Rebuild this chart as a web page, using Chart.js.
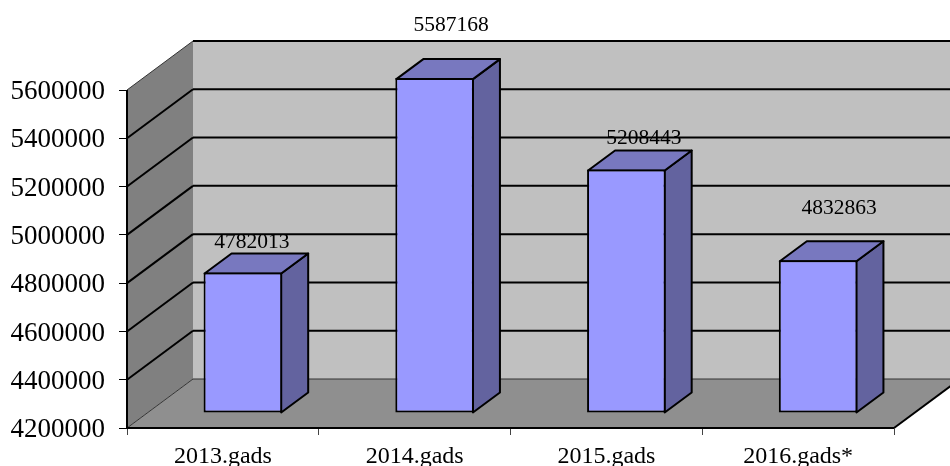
<!DOCTYPE html>
<html>
<head>
<meta charset="utf-8">
<style>html,body{margin:0;padding:0;background:#fff;overflow:hidden}#w{width:950px;height:466px;position:relative;overflow:hidden}</style>
<script src="https://cdn.jsdelivr.net/npm/chart.js@4"></script>
</head>
<body>
<div id="w"><canvas id="c" width="950" height="466"></canvas></div>
<script>
const categories = ['2013.gads', '2014.gads', '2015.gads', '2016.gads*'];
const values = [4782013, 5587168, 5208443, 4832863];
const axisMin = 4200000;
const axisMax = 5600000;
const axisStep = 200000;

const FONT = '"Liberation Serif", serif';
const WALL = {dx: 66, dy: -49};
const BAR_SHIFT = {dx: 20, dy: -15};
const BAR_DEPTH = {dx: 27, dy: -20};
const LABEL_SHIFT = [[9, -30.5], [16.5, -53], [17.5, -31.5], [21, -52]];

function poly(ctx, pts, fill, stroke, lw) {
  ctx.beginPath();
  pts.forEach((p, i) => i ? ctx.lineTo(p[0], p[1]) : ctx.moveTo(p[0], p[1]));
  ctx.closePath();
  if (fill) { ctx.fillStyle = fill; ctx.fill(); }
  if (stroke) { ctx.strokeStyle = stroke; ctx.lineWidth = lw; ctx.stroke(); }
}
function seg(ctx, x1, y1, x2, y2, color, lw) {
  ctx.beginPath(); ctx.moveTo(x1, y1); ctx.lineTo(x2, y2);
  ctx.strokeStyle = color; ctx.lineWidth = lw; ctx.stroke();
}

const walls = {
  id: 'walls',
  beforeDraw(chart) {
    const {ctx, chartArea: a, scales: {y}} = chart;
    const dx = WALL.dx, dy = WALL.dy;
    const top = y.getPixelForValue(axisMax), bot = y.getPixelForValue(axisMin);
    ctx.save();
    poly(ctx, [[a.left + dx, top + dy], [a.right + dx, top + dy], [a.right + dx, bot + dy], [a.left + dx, bot + dy]], '#c0c0c0');
    poly(ctx, [[a.left, top], [a.left + dx, top + dy], [a.left + dx, bot + dy], [a.left, bot]], '#808080');
    poly(ctx, [[a.left, bot], [a.right, bot], [a.right + dx, bot + dy], [a.left + dx, bot + dy]], '#8f8f8f');
    y.ticks.forEach(t => {
      const py = y.getPixelForValue(t.value);
      const edge = t.value === axisMin;
      const thin = edge || t.value === axisMax;
      seg(ctx, a.left, py, a.left + dx, py + dy, thin ? '#333' : '#000', thin ? 1 : 2);
      seg(ctx, a.left + dx, py + dy, a.right + dx, py + dy, edge ? '#333' : '#000', edge ? 1 : 2);
    });
    seg(ctx, a.right, bot, a.right + dx, bot + dy, '#000', 2);
    ctx.restore();
  },
  beforeDatasetsDraw(chart) {
    const {ctx, chartArea: a, scales: {y}} = chart;
    const top = y.getPixelForValue(axisMax), bot = y.getPixelForValue(axisMin);
    seg(ctx, a.left, top, a.left, bot + 1, '#000', 2);
    seg(ctx, a.left - 1, bot, a.right, bot, '#000', 2);
    ctx.save();
    ctx.translate(BAR_SHIFT.dx, BAR_SHIFT.dy);
    ctx.lineJoin = 'round';
    chart.getDatasetMeta(0).data.forEach(el => {
      const p = el.getProps(['x', 'y', 'base', 'width'], true);
      const l = p.x - p.width / 2 + 1, r = p.x + p.width / 2 - 1, t = p.y + 1;
      const ddx = BAR_DEPTH.dx, ddy = BAR_DEPTH.dy;
      poly(ctx, [[r, t], [r + ddx, t + ddy], [r + ddx, p.base + ddy], [r, p.base]], '#63639f', '#000', 2);
      poly(ctx, [[l, t], [l + ddx, t + ddy], [r + ddx, t + ddy], [r, t]], '#7878bf', '#000', 2);
    });
  },
  afterDatasetsDraw(chart) {
    const {ctx} = chart;
    ctx.restore();
    ctx.save();
    ctx.font = '21.5px ' + FONT;
    ctx.fillStyle = '#000';
    ctx.textAlign = 'center';
    ctx.textBaseline = 'middle';
    chart.getDatasetMeta(0).data.forEach((el, i) => {
      const p = el.getProps(['x', 'y'], true);
      ctx.fillText(String(values[i]), p.x + BAR_SHIFT.dx + LABEL_SHIFT[i][0], p.y + BAR_SHIFT.dy + LABEL_SHIFT[i][1]);
    });
    ctx.restore();
  }
};

new Chart(document.getElementById('c'), {
  type: 'bar',
  data: {
    labels: categories,
    datasets: [{
      data: values,
      base: axisMin,
      backgroundColor: '#9999ff',
      borderColor: '#000',
      borderWidth: 2,
      borderSkipped: false,
      barPercentage: 0.41,
      categoryPercentage: 1,
      clip: false
    }]
  },
  options: {
    responsive: false,
    animation: false,
    events: [],
    layout: {padding: {top: 90, right: 56, left: 0, bottom: 0}},
    plugins: {legend: {display: false}, tooltip: {enabled: false}, title: {display: false}},
    scales: {
      x: {
        type: 'category',
        offset: true,
        afterFit(s) { s.height = 38; },
        border: {display: false},
        grid: {offset: true, drawOnChartArea: false, drawTicks: true, tickLength: 7, color: '#444', lineWidth: 1},
        ticks: {color: '#000', font: {family: FONT, size: 24}, padding: 7, maxRotation: 0, autoSkip: false}
      },
      y: {
        min: axisMin,
        max: axisMax,
        afterFit(s) { s.width = 127; },
        border: {display: false},
        grid: {drawOnChartArea: false, drawTicks: true, tickLength: 8, color: '#000', lineWidth: 1},
        ticks: {stepSize: axisStep, color: '#000', font: {family: FONT, size: 27}, padding: 14, labelOffset: 2, autoSkip: false, callback: v => String(v)}
      }
    }
  },
  plugins: [walls]
});
</script>
</body>
</html>
